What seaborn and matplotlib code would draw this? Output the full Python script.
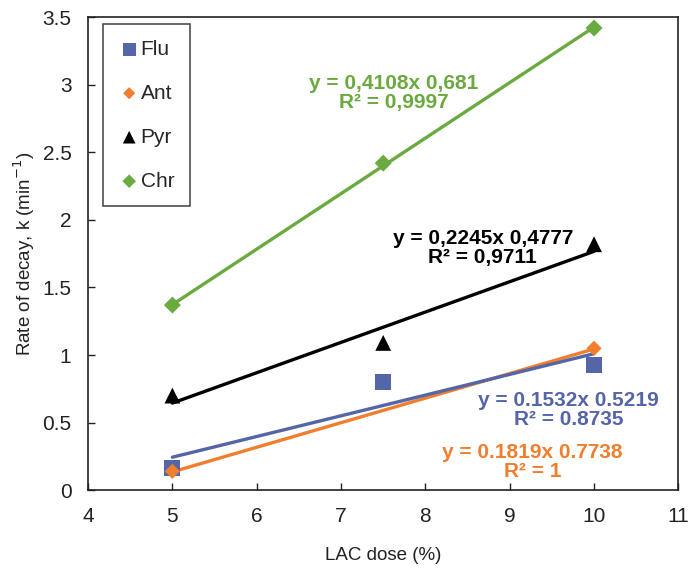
import numpy as np
import pandas as pd
import matplotlib
matplotlib.use("Agg")
import matplotlib.pyplot as plt
import seaborn as sns

# Measured decay rates per compound
dose_flu = [5, 7.5, 10]
k_flu = [0.165, 0.80, 0.925]
dose_ant = [5, 10]
k_ant = [0.14, 1.05]
dose_pyr = [5, 7.5, 10]
k_pyr = [0.70, 1.09, 1.82]
dose_chr = [5, 7.5, 10]
k_chr = [1.37, 2.42, 3.42]

# Linear fits (slope, intercept) and their labels
fit_slopes = {"Flu": 0.1532, "Ant": 0.1819, "Pyr": 0.2245, "Chr": 0.4108}
fit_intercepts = {"Flu": -0.5219, "Ant": -0.7738, "Pyr": -0.4777, "Chr": -0.681}
fit_labels = {
    "Flu": "y = 0.1532x 0.5219\nR² = 0.8735",
    "Ant": "y = 0.1819x 0.7738\nR² = 1",
    "Pyr": "y = 0,2245x 0,4777\nR² = 0,9711",
    "Chr": "y = 0,4108x 0,681\nR² = 0,9997",
}

x_ticks = [4, 5, 6, 7, 8, 9, 10, 11]
y_ticks = [0, 0.5, 1, 1.5, 2, 2.5, 3, 3.5]

colors = {"Flu": "#5465A8", "Ant": "#F07E2E", "Pyr": "#000000", "Chr": "#6AAA3F"}
markers = {"Flu": "s", "Ant": "D", "Pyr": "^", "Chr": "D"}
msizes = {"Flu": 130, "Ant": 60, "Pyr": 130, "Chr": 75}

series = {
    "Flu": (dose_flu, k_flu),
    "Ant": (dose_ant, k_ant),
    "Pyr": (dose_pyr, k_pyr),
    "Chr": (dose_chr, k_chr),
}

sns.set_theme(style="white")
plt.rcParams["font.family"] = ["Liberation Sans", "DejaVu Sans"]

fig = plt.figure(figsize=(6.88, 5.74), dpi=100)
ax = fig.add_axes([0.128, 0.146, 0.858, 0.824])

# Trend lines over the measured dose range
for name in ["Chr", "Pyr", "Ant", "Flu"]:
    xs = np.array([5.0, 10.0])
    fit_df = pd.DataFrame({"dose": xs, "k": fit_slopes[name] * xs + fit_intercepts[name]})
    sns.lineplot(data=fit_df, x="dose", y="k", ax=ax, color=colors[name],
                 linewidth=2.4, legend=False, zorder=2)

# Data points
for name in ["Flu", "Ant", "Pyr", "Chr"]:
    xs, ys = series[name]
    df = pd.DataFrame({"dose": xs, "k": ys})
    sns.scatterplot(data=df, x="dose", y="k", ax=ax, color=colors[name],
                    marker=markers[name], s=msizes[name], edgecolor="none",
                    label=name, zorder=3)

# Fit equations
label_pos = {"Chr": (7.62, 2.94), "Pyr": (8.68, 1.79), "Flu": (9.7, 0.59), "Ant": (9.27, 0.21)}
for name, (tx, ty) in label_pos.items():
    ax.text(tx, ty, fit_labels[name], color=colors[name], fontsize=15,
            fontweight="bold", ha="center", va="center", linespacing=1.0,
            zorder=4)

ax.set_xlim(4, 11)
ax.set_ylim(0, 3.5)
ax.set_xticks(x_ticks)
ax.set_yticks(y_ticks)
ax.set_xticklabels([str(t) for t in x_ticks])
ax.set_yticklabels([f"{t:g}" for t in y_ticks])
ax.tick_params(axis="both", direction="in", length=5, width=1, colors="#222222",
               labelsize=15, left=True, bottom=True)
ax.tick_params(axis="x", pad=12)
ax.tick_params(axis="y", pad=12)
for sp in ax.spines.values():
    sp.set_color("#222222")
    sp.set_linewidth(1.2)

ax.set_xlabel("LAC dose (%)", fontsize=13.5, color="#222222", labelpad=15)
ax.set_ylabel("Rate of decay, k (min$^{-1}$)", fontsize=13.5, color="#222222", labelpad=4)

leg = ax.legend(loc="upper left", bbox_to_anchor=(0.022, 0.99), frameon=True,
                fancybox=False, edgecolor="#222222", fontsize=15,
                labelspacing=1.2, handletextpad=0.05, borderpad=0.75,
                handlelength=1.0, markerscale=0.8, borderaxespad=0.1)
leg.get_frame().set_linewidth(1.2)

fig.savefig("out.png", dpi=100)
